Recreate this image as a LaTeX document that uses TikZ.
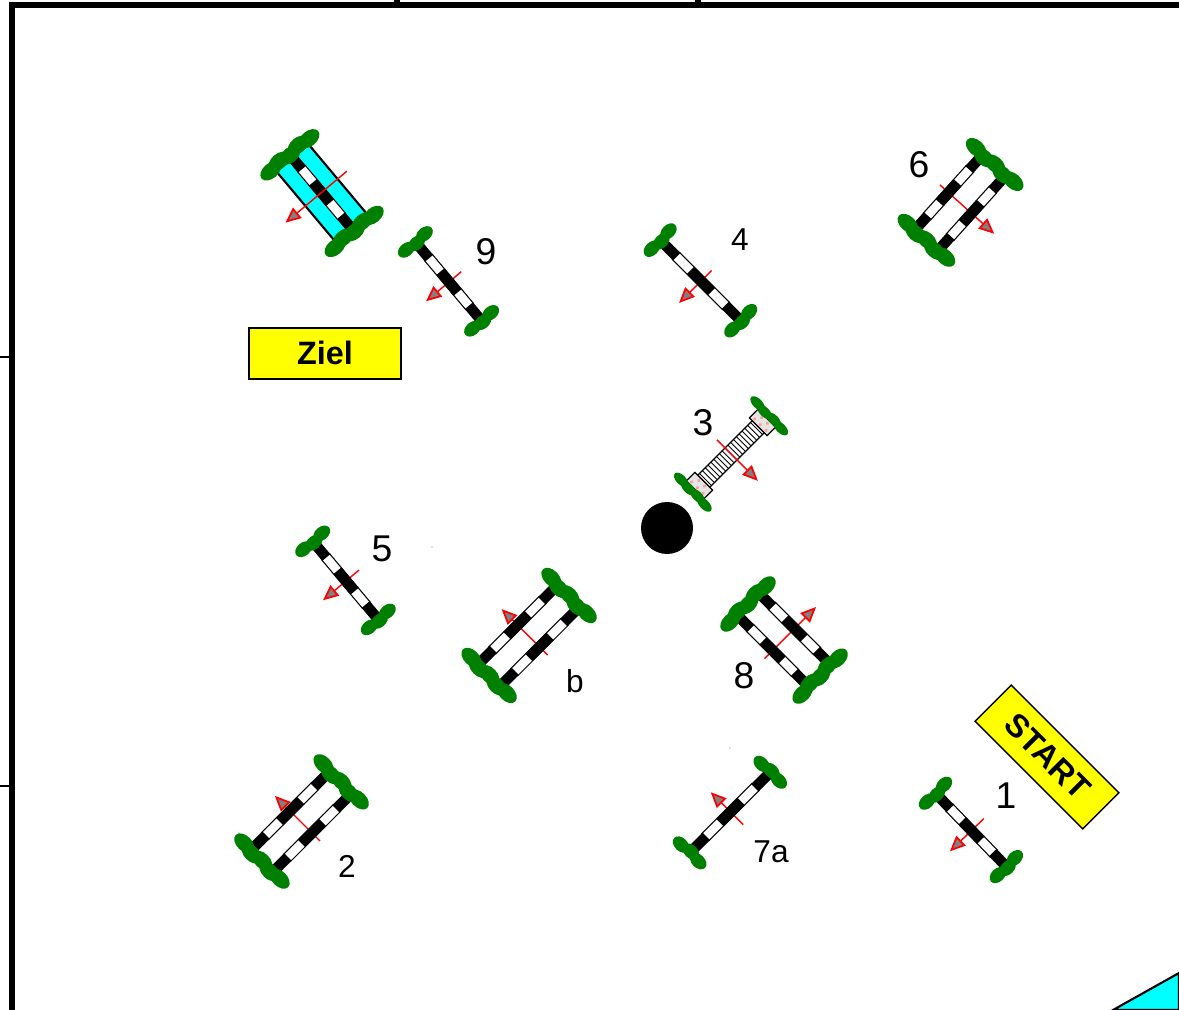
\documentclass[tikz,border=0pt]{standalone}
\usepackage{fontspec}
\setmainfont{Liberation Sans}
\usetikzlibrary{arrows.meta}
\definecolor{bushgreen}{RGB}{0,128,0}
\definecolor{signyellow}{RGB}{255,255,0}
\definecolor{watercyan}{RGB}{0,255,255}
\definecolor{flightred}{RGB}{255,0,0}
\tikzset{
  frameline/.style={line width=1.45pt, draw=black},
  thinline/.style={line width=0.4pt, draw=black},
  railwhite/.style={fill=white, draw=black, line width=0.3pt},
  railblack/.style={fill=black, draw=none},
  bushblob/.style={fill=bushgreen, draw=none},
  flight/.style={draw=flightred, line width=0.4pt, -{Triangle[length=4.4pt,width=3.8pt,fill=gray,line width=0.5pt]}},
  signbox/.style={draw=black, fill=signyellow, line width=0.4pt, minimum width=1.52cm, minimum height=0.51cm, inner sep=0pt, font=\bfseries\fontsize{9.2}{11}\selectfont},
  biglabel/.style={font=\fontsize{10.6}{12}\selectfont, inner sep=0pt},
  smalllabel/.style={font=\fontsize{9}{11}\selectfont, inner sep=0pt},
}
% one striped pole: lateral offset, half length
\newcommand{\striperail}[2]{%
  \draw[railwhite] ({-0.64*#2},#1-5) rectangle ({0.64*#2},#1+5);
  \fill[railblack] ({-#2},#1-5.3) rectangle ({-0.62*#2},#1+5.3);
  \fill[railblack] ({-0.27*#2},#1-5.3) rectangle ({0.27*#2},#1+5.3);
  \fill[railblack] ({0.62*#2},#1-5.3) rectangle ({#2},#1+5.3);
}
% short and long bush pairs
\newcommand{\smallbushes}[1]{%
  \foreach \side in {-1,1} \foreach \pos/\off in {-12/-1,0/1,12/-0.6}
    \fill[bushblob] ({\side*(#1+1.5)+\off},\pos) ellipse [x radius=6.6, y radius=9.5];
}
\newcommand{\longbushes}[1]{%
  \foreach \side in {-1,1} \foreach \pos/\off in {-25/0.8,-12.5/-1.2,0/1.2,12.5/-1.2,25/0.8}
    \fill[bushblob] ({\side*(#1+1)+\off},\pos) ellipse [x radius=7.6, y radius=12];
}
% x, y, angle, half length, arrow tail, arrow tip
\newcommand{\singlejump}[6]{%
  \begin{scope}[shift={(#1,#2)}, rotate=#3]
    \draw[flight] (0,#5) -- (0,#6);
    \striperail{0}{#4}
    \smallbushes{#4}
  \end{scope}
}
\newcommand{\doublejump}[6]{%
  \begin{scope}[shift={(#1,#2)}, rotate=#3]
    \draw[flight] (0,#5) -- (0,#6);
    \striperail{-15.5}{#4}
    \striperail{15.5}{#4}
    \longbushes{#4}
  \end{scope}
}
\begin{document}
\begin{tikzpicture}[x=0.01cm, y=-0.01cm]
\useasboundingbox (0,0) rectangle (1179,1010);
% arena border
\draw[frameline] (12,1010) -- (12,5) -- (1179,5);
\draw[frameline] (397,0) -- (397,5);
\draw[frameline] (698,0) -- (698,5);
\draw[thinline] (0,357) -- (12,357);
\draw[thinline] (0,786) -- (12,786);
\filldraw[fill=watercyan, draw=black, line width=0.6pt] (1113,1010) -- (1179,973) -- (1179,1010) -- cycle;
% water jump
\begin{scope}[shift={(321.5,192.5)}, rotate=-50]
  \filldraw[fill=watercyan, draw=black, line width=0.6pt] (-45,-21) rectangle (45,21);
  \striperail{0}{49}
  \draw[flight] (0,-33) -- (0,47);
  \longbushes{49}
\end{scope}
% jumps
\singlejump{449}{282}{-50}{50}{-16}{30}
\singlejump{701}{281}{-45}{55.5}{-15}{31}
\singlejump{346}{581}{-50}{49.5}{-17}{30}
\singlejump{971.5}{830.5}{-46}{49.5}{-17}{30}
\singlejump{730.5}{812}{45}{55.5}{18}{-28}
\doublejump{960}{203}{48}{50}{-27}{46}
\doublejump{528.5}{636}{45}{55.5}{27}{-38}
\doublejump{783.5}{639.5}{-45}{50}{27}{-46}
\doublejump{301}{822}{45}{55}{27}{-37}
% wall
\begin{scope}[shift={(731,454)}, rotate=45]
  \filldraw[fill=white, draw=black, line width=0.35pt] (-38.5,-8.5) rectangle (38.5,8.5);
  \foreach \hx in {-36,-32,...,36.1}
    \draw[black, line width=0.25pt] (\hx,-8.5) -- (\hx,8.5);
  \foreach \side in {-1,1} {
    \filldraw[fill=black!10, draw=black, line width=0.35pt] ({\side*44.5-6},-12.5) rectangle ({\side*44.5+6},12.5);
    \foreach \dx/\dy in {-3/-8,3/-4,-3/0,3/4,-3/8}
      \fill[flightred!40] ({\side*44.5+\dx},\dy) circle (1.8);
    \foreach \pos/\off in {-17/0.5,-6/-0.5,6/0.5,17/-0.5}
      \fill[bushblob] ({\side*54+\off},\pos) ellipse [x radius=4.8, y radius=9];
  }
  \draw[flight] (0,-20) -- (0,38);
\end{scope}
\fill[black] (667,528) circle (26);
% specks
\fill[black!50] (432,547) circle (0.7);
\fill[black!50] (730,748) circle (0.7);
% signs
\node[signbox] (ziel) at (325,353.5) {\raisebox{0.3pt}{Ziel}};
\node[signbox, rotate=-45] (start) at (1047,757) {\raisebox{0.6pt}{START}};
% labels
\node[biglabel] (no9) at (486,252) {9};
\node[biglabel] (no6) at (919,165) {6};
\node[biglabel] (no3) at (703,423) {3};
\node[biglabel] (no5) at (382,549) {5};
\node[biglabel] (no8) at (744,676) {8};
\node[biglabel] (no1) at (1006,796) {1};
\node[smalllabel] (no4) at (740,240) {4};
\node[smalllabel] (nob) at (575,681) {b};
\node[smalllabel] (no2) at (347,866) {2};
\node[smalllabel] (no7a) at (771,852) {7a};
\end{tikzpicture}
\end{document}
